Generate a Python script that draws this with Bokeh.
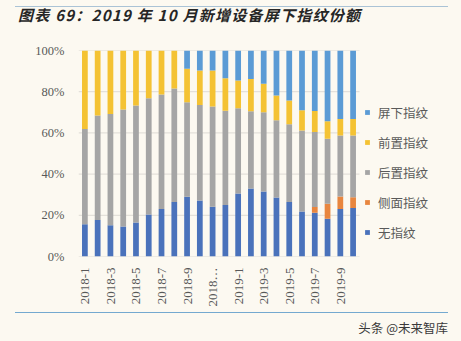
from bokeh.plotting import figure
from bokeh.models import (ColumnDataSource, Range1d, FixedTicker, PrintfTickFormatter,
                          Legend, LegendItem, Div)
from bokeh.layouts import column
from bokeh.embed import file_html
from bokeh.resources import INLINE
import math

# ---- data (percent shares) ----
months = ["2018-1", "2018-2", "2018-3", "2018-4", "2018-5", "2018-6", "2018-7", "2018-8",
          "2018-9", "2018-10", "2018-11", "2018-12", "2019-1", "2019-2", "2019-3", "2019-4",
          "2019-5", "2019-6", "2019-7", "2019-8", "2019-9", "2019-10"]
tick_labels = {1: "2018-1", 3: "2018-3", 5: "2018-5", 7: "2018-7", 9: "2018-9", 11: "2018…",
               13: "2019-1", 15: "2019-3", 17: "2019-5", 19: "2019-7", 21: "2019-9"}
y_ticks = [0, 20, 40, 60, 80, 100]
none_fp = [15.7, 17.7, 15.2, 14.6, 16.5, 20.4, 23.0, 26.4, 29.0, 27.2, 24.2,
           25.0, 30.6, 33.0, 31.6, 28.7, 26.4, 21.8, 21.2, 18.3, 23.1, 23.5]
side_fp = [0, 0, 0, 0, 0, 0, 0, 0, 0, 0, 0,
           0, 0, 0, 0, 0, 0, 0, 2.8, 7.3, 6.0, 5.3]
rear_fp = [46.2, 50.7, 54.0, 56.7, 56.8, 56.4, 55.6, 55.1, 45.9, 46.4, 48.6,
           45.8, 41.4, 37.5, 38.4, 37.5, 37.8, 39.4, 36.4, 31.5, 29.6, 29.9]
front_fp = [38.1, 31.6, 30.8, 28.7, 26.7, 23.2, 21.4, 18.5, 16.2, 16.7, 17.5,
            15.7, 13.4, 15.7, 13.8, 12.0, 11.5, 9.8, 10.2, 8.6, 8.1, 8.1]
under_fp = [0, 0, 0, 0, 0, 0, 0, 0, 8.9, 9.7, 9.7,
            13.5, 14.6, 13.8, 16.2, 21.8, 24.3, 29.0, 29.4, 34.3, 33.2, 33.2]

series = ["无指纹", "侧面指纹", "后置指纹", "前置指纹", "屏下指纹"]
colors = ["#4a72bb", "#e8863f", "#a5a5a5", "#f4c233", "#5b9bd5"]

BG = "#fcf9f1"
n = len(months)

src = ColumnDataSource(dict(
    x=list(range(1, n + 1)), month=months,
    **{series[0]: none_fp, series[1]: side_fp, series[2]: rear_fp,
       series[3]: front_fp, series[4]: under_fp}))

# frame spans the bar area plus room on the right for the legend
p = figure(width=461, height=282, output_backend="svg", toolbar_location=None,
           x_range=Range1d(0.5, n + 7.47), y_range=Range1d(0, 100),
           min_border_left=78, min_border_right=13, min_border_top=20,
           min_border_bottom=56, background_fill_color=BG, border_fill_color=BG,
           outline_line_color=None, margin=0)

# horizontal grid lines limited to the bar area
p.segment(x0=[0.5] * len(y_ticks), x1=[n + 0.5] * len(y_ticks), y0=y_ticks, y1=y_ticks,
          line_color="#dedbd5", line_width=1)

rs = p.vbar_stack(series, x="x", width=0.45, color=colors, source=src, line_color=None)

# axes
p.yaxis.ticker = FixedTicker(ticks=y_ticks)
p.yaxis.formatter = PrintfTickFormatter(format="%d%%")
p.yaxis.axis_line_color = None
p.yaxis.major_tick_line_color = None
p.yaxis.minor_tick_line_color = None
p.yaxis.major_label_text_font = "Liberation Serif"
p.yaxis.major_label_text_font_size = "12.5px"
p.yaxis.major_label_text_color = "#595959"
p.yaxis.major_label_standoff = 8

p.xaxis.ticker = FixedTicker(ticks=list(tick_labels.keys()))
p.xaxis.major_label_overrides = tick_labels
p.xaxis.major_label_orientation = math.pi / 2
p.xaxis.axis_line_color = None
p.xaxis.major_tick_line_color = None
p.xaxis.minor_tick_line_color = None
p.xaxis.major_label_text_font = "Liberation Serif"
p.xaxis.major_label_text_font_size = "13px"
p.xaxis.major_label_text_color = "#595959"
p.xaxis.major_label_standoff = 5

p.xgrid.grid_line_color = None
p.ygrid.grid_line_color = None

items = [LegendItem(label=series[i], renderers=[rs[i]]) for i in range(4, -1, -1)]
legend = Legend(items=items, location=(286, 14), orientation="vertical",
                background_fill_alpha=0, border_line_color=None,
                padding=0, margin=0, spacing=10, label_height=20,
                glyph_width=6, glyph_height=6, label_standoff=8,
                label_text_font="Noto Sans CJK SC", label_text_font_size="12.5px",
                label_text_color="#595959")
p.add_layout(legend, "center")

top = Div(width=461, height=30, margin=0, styles={"background-color": BG},
          text=('<div style="width:433px;margin:6px 0 0 15px;border-top:1.5px solid #aac3d6;'
                'padding:0 0 0 3px;font-family:\'Noto Sans CJK SC\';font-size:15px;'
                'font-weight:bold;font-style:italic;letter-spacing:1.25px;color:#262626;'
                'line-height:16px;white-space:nowrap;">'
                '图表 69：2019 年 10 月新增设备屏下指纹份额</div>'))
bottom = Div(width=461, height=29, margin=0, styles={"background-color": BG},
             text=('<div style="width:433px;margin:0 0 0 15px;border-top:1.5px solid #74a9d0;'
                   'text-align:right;font-family:\'Noto Sans CJK SC\';font-size:12.5px;'
                   'color:#3a3a3a;padding-top:6px;line-height:18px;white-space:nowrap;">'
                   '头条 @未来智库</div>'))

layout = column(top, p, bottom, spacing=0, margin=0, styles={"background-color": BG})

open("out.html", "w").write(file_html(layout, INLINE))
